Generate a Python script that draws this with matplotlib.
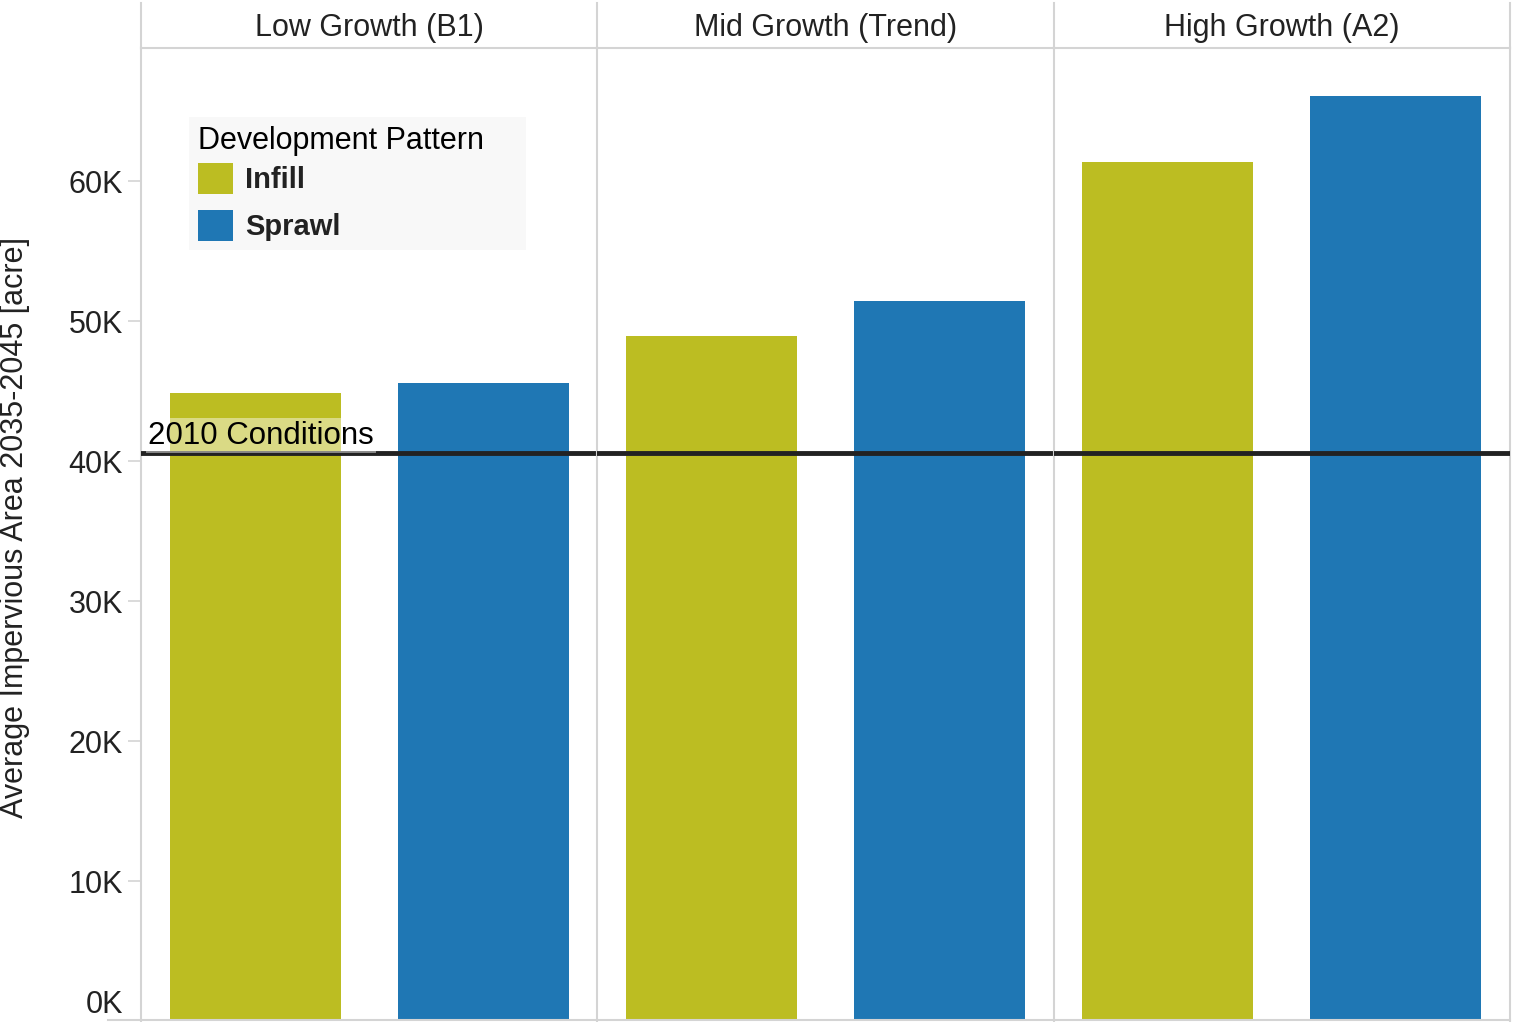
import matplotlib
matplotlib.use('Agg')
import matplotlib.pyplot as plt
from matplotlib.patches import Patch
from matplotlib.lines import Line2D
import matplotlib.transforms as mtransforms

plt.rcParams['font.family'] = ['Liberation Sans', 'DejaVu Sans']

# ---- data ----
scenarios = ['Low Growth (B1)', 'Mid Growth (Trend)', 'High Growth (A2)']
patterns = ['Infill', 'Sprawl']
infill = [44860, 48930, 61360]
sprawl = [45570, 51430, 66070]
baseline_2010 = 40550
baseline_label = '2010 Conditions'
y_ticks = [0, 10000, 20000, 30000, 40000, 50000, 60000]
y_tick_labels = ['0K', '10K', '20K', '30K', '40K', '50K', '60K']
y_title = 'Average Impervious Area 2035-2045 [acre]'
legend_title = 'Development Pattern'
colors = ['#bcbd22', '#1f77b4']

# ---- layout ----
W, H = 1513, 1022
fig = plt.figure(figsize=(W / 100, H / 100), dpi=100)
left_px, right_px = 141, 1510
top_px, bot_px = 48, 1021
hdr_top = 3
pw = (right_px - left_px) / 3
grid_c = '#d4d4d4'
txt_c = '#222222'

axes = []
for i, sc in enumerate(scenarios):
    x0 = left_px + i * pw
    ax = fig.add_axes([x0 / W, (H - bot_px) / H, pw / W, (bot_px - top_px) / H])
    vals = [infill[i], sprawl[i]]
    ax.bar(range(len(patterns)), vals, width=0.75, color=colors, zorder=2)
    ax.set_xlim(-0.5, 1.5)
    ax.set_ylim(0, 69500)
    ax.set_xticks([])
    for s in ['top', 'bottom', 'right']:
        ax.spines[s].set_visible(False)
    ax.spines['left'].set_color(grid_c)
    ax.spines['left'].set_linewidth(1.5)
    if i == len(scenarios) - 1:
        ax.spines['right'].set_visible(True)
        ax.spines['right'].set_color(grid_c)
        ax.spines['right'].set_linewidth(1.5)
    ax.axhline(baseline_2010, color='#222222', lw=3.5, zorder=4)
    if i == 0:
        ax.set_yticks(y_ticks)
        ax.set_yticklabels(y_tick_labels)
        ax.tick_params(axis='y', length=9.4, width=1.2, color=grid_c, pad=3.5,
                       labelsize=22, labelcolor=txt_c)
    else:
        ax.set_yticks([])
    axes.append(ax)

    # header strip
    hx = fig.add_axes([x0 / W, (H - top_px) / H, pw / W, (top_px - hdr_top) / H])
    hx.set_xticks([]); hx.set_yticks([])
    hx.patch.set_alpha(0)
    hx.spines['top'].set_visible(False)
    hx.spines['right'].set_visible(i == len(scenarios) - 1)
    for s in ['left', 'bottom', 'right']:
        hx.spines[s].set_color(grid_c)
        hx.spines[s].set_linewidth(1.5)
    hx.text(0.5, 0.44, sc, ha='center', va='center', fontsize=22, color=txt_c,
            transform=hx.transAxes)

ax0 = axes[0]
# shift the 0K label up as in the reference
lab0 = ax0.get_yticklabels()[0]
lab0.set_transform(lab0.get_transform() +
                   mtransforms.ScaledTranslation(0, 20 / 100, fig.dpi_scale_trans))
ax0.yaxis.get_major_ticks()[0].tick1line.set_visible(False)

# bottom axis line
fig.add_artist(Line2D([108 / W, right_px / W], [(H - 1020) / H] * 2,
                      color=grid_c, lw=1.5, transform=fig.transFigure))

# baseline label
ax0.annotate(baseline_label, xy=(7 / pw, baseline_2010),
             xycoords=('axes fraction', 'data'), xytext=(0, 2),
             textcoords='offset points', ha='left', va='bottom', fontsize=22.5,
             color='black', zorder=5,
             bbox=dict(boxstyle='square,pad=0.08', fc='white', ec='none', alpha=0.45))

# legend
handles = [Patch(facecolor=c, edgecolor='none') for c in colors]
ah = bot_px - top_px
leg = ax0.legend(handles, patterns, title=legend_title, loc='upper left',
                 bbox_to_anchor=((189 - left_px) / pw, (bot_px - 248) / ah,
                                 (526 - 189) / pw, (248 - 117) / ah),
                 mode='expand', prop={'weight': 'bold', 'size': 21},
                 title_fontsize=22, frameon=True, facecolor='#f8f8f8',
                 edgecolor='none', framealpha=1, fancybox=False, borderpad=0.3,
                 handlelength=1.2, handleheight=1.25, handletextpad=0.42,
                 labelspacing=0.55, borderaxespad=0)
leg._legend_box.align = 'left'
leg._legend_box.sep = 5
for t in leg.get_texts():
    t.set_color(txt_c)
leg.get_title().set_color('black')
leg.set_zorder(6)

fig.text(15 / W, 1 - 528 / H, y_title, rotation=90, ha='center', va='center',
         fontsize=22, color=txt_c)

fig.savefig('out.png', dpi=100)
